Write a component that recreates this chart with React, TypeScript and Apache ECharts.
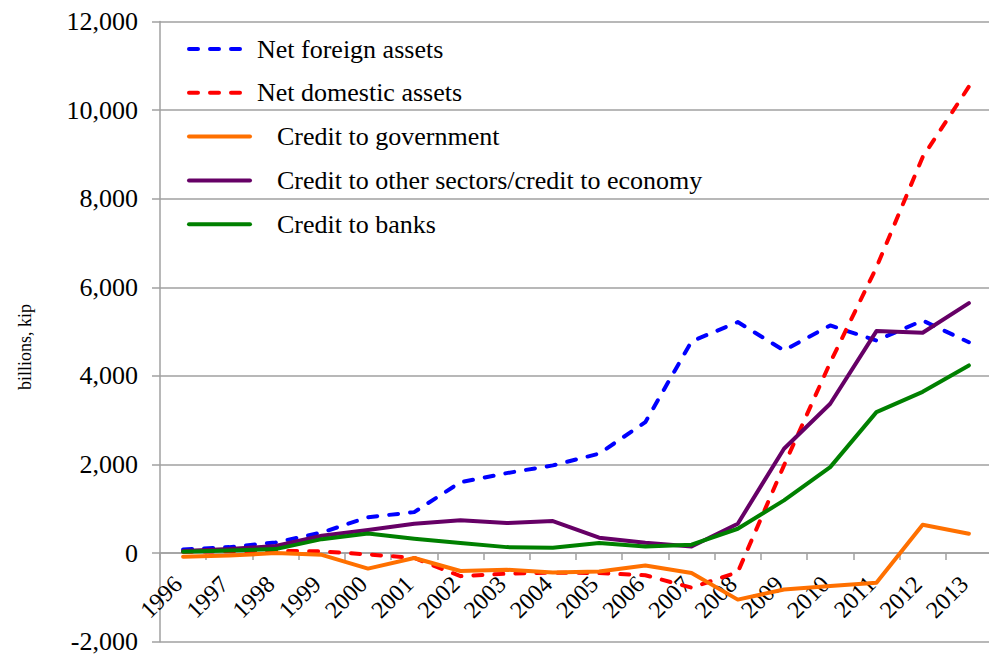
import React, { useEffect, useRef } from "react";
import * as echarts from "echarts";

const years = ["1996","1997","1998","1999","2000","2001","2002","2003","2004","2005","2006","2007","2008","2009","2010","2011","2012","2013"];
const netForeignAssets = [80, 135, 240, 465, 810, 925, 1600, 1805, 1980, 2245, 2955, 4780, 5215, 4575, 5140, 4800, 5250, 4760];
const netDomesticAssets = [30, 40, 50, 40, -30, -110, -520, -465, -440, -450, -500, -780, -430, 1980, 4300, 6450, 8940, 10530];
const creditToGovernment = [-80, -55, 0, -40, -350, -110, -405, -375, -440, -415, -280, -450, -1050, -820, -745, -670, 640, 437];
const creditToOtherSectors = [45, 90, 160, 390, 520, 663, 740, 677, 722, 347, 235, 150, 663, 2356, 3372, 5011, 4974, 5643];
const creditToBanks = [30, 60, 90, 315, 440, 325, 226, 135, 122, 226, 151, 190, 550, 1190, 1941, 3183, 3640, 4236];
const yTicks = { min: -2000, max: 12000, interval: 2000 };
const yAxisTitle = "billions, kip";

const seriesDefs = [
  { name: "Net foreign assets", data: netForeignAssets, color: "#0000FF", dashed: true },
  { name: "Net domestic assets", data: netDomesticAssets, color: "#FF0000", dashed: true },
  { name: "Credit to government", data: creditToGovernment, color: "#FF7000", dashed: false },
  { name: "Credit to other sectors/credit to economy", data: creditToOtherSectors, color: "#660066", dashed: false },
  { name: "Credit to banks", data: creditToBanks, color: "#008000", dashed: false },
];

const FONT = "Liberation Serif, Times New Roman, serif";
const GRID_COLOR = "#A0A0A0";
const GRID_TOP = 21.5;
const GRID_HEIGHT = 620.2;

export default function App() {
  const ref = useRef<HTMLDivElement>(null);
  useEffect(() => {
    if (!ref.current) return;
    const chart = echarts.init(ref.current, null, { renderer: "svg" });
    const legendGraphics: any[] = [];
    seriesDefs.forEach((s, i) => {
      const y = 49 + i * 43.8;
      legendGraphics.push({
        type: "line",
        shape: { x1: 189, y1: y, x2: s.dashed ? 241 : 250, y2: y },
        style: {
          stroke: s.color,
          lineWidth: 4,
          lineCap: "round",
          lineDash: s.dashed ? [9, 12] : null,
        },
      });
      legendGraphics.push({
        type: "text",
        x: s.dashed ? 257 : 277,
        y: y,
        style: {
          text: s.name,
          fill: "#000",
          fontSize: 26,
          fontFamily: FONT,
          verticalAlign: "middle",
          align: "left",
        },
      });
    });
    legendGraphics.push({
      type: "text",
      x: 25,
      y: 347,
      rotation: Math.PI / 2,
      style: {
        text: yAxisTitle,
        fill: "#000",
        fontSize: 18,
        fontFamily: FONT,
        align: "center",
        verticalAlign: "middle",
      },
    });

    // offset that places the category axis on the value 0
    const zeroOffset = -GRID_HEIGHT * (0 - yTicks.min) / (yTicks.max - yTicks.min);

    chart.setOption({
      animation: false,
      backgroundColor: "#fff",
      grid: { left: 160, top: GRID_TOP, width: 832, height: GRID_HEIGHT, containLabel: false, outerBoundsMode: "none" },
      xAxis: {
        type: "category",
        data: years,
        boundaryGap: true,
        offset: zeroOffset,
        axisLine: { onZero: false, lineStyle: { color: GRID_COLOR, width: 1.5 } },
        axisTick: { show: true, length: 7, lineStyle: { color: GRID_COLOR, width: 1.5 } },
        axisLabel: {
          rotate: 45,
          fontSize: 24,
          fontFamily: FONT,
          color: "#000",
          margin: 22,
          padding: [0, 7, 0, 0],
          interval: 0,
        },
        splitLine: { show: false },
      },
      yAxis: {
        type: "value",
        min: yTicks.min,
        max: yTicks.max,
        interval: yTicks.interval,
        axisLine: { show: true, lineStyle: { color: GRID_COLOR, width: 1.5 } },
        axisTick: { show: true, length: 8, lineStyle: { color: GRID_COLOR, width: 1.5 } },
        axisLabel: {
          fontSize: 26,
          fontFamily: FONT,
          color: "#000",
          margin: 22,
          formatter: (v: number) => v.toLocaleString("en-US"),
        },
        splitLine: { show: true, lineStyle: { color: GRID_COLOR, width: 1.5 } },
      },
      series: seriesDefs.map((s) => ({
        name: s.name,
        type: "line",
        data: s.data,
        symbol: "none",
        smooth: false,
        z: 3,
        lineStyle: {
          color: s.color,
          width: 4,
          type: s.dashed ? [9, 12] : "solid",
          cap: "round",
          join: "round",
        },
        itemStyle: { color: s.color },
      })),
      graphic: legendGraphics,
    });
    return () => chart.dispose();
  }, []);
  return <div ref={ref} style={{ width: 989, height: 657, position: "absolute", left: 0, top: 0 }} />;
}
